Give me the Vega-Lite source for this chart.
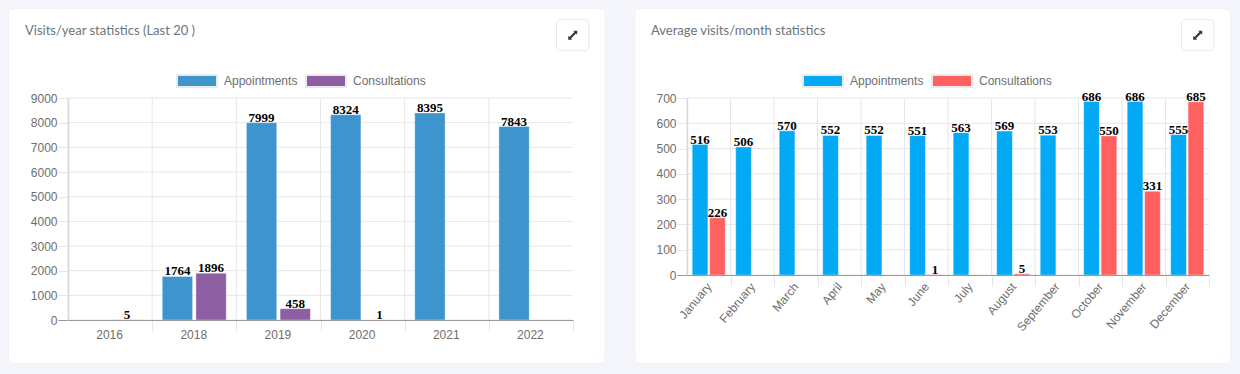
{"$schema":"https://vega.github.io/schema/vega-lite/v6.json","padding":{"left":8,"top":8,"right":8,"bottom":9},"background":"#f5f6fb","spacing":28,"resolve":{"scale":{"color":"independent","xOffset":"independent"},"legend":{"color":"independent"}},"config":{"view":{"stroke":null},"axis":{"labelFont":"Liberation Sans","labelColor":"#6e6e6e","labelFontSize":12,"title":null,"grid":false},"legend":{"orient":"none","direction":"horizontal","title":null,"labelFont":"Liberation Sans","labelFontSize":12,"labelColor":"#6e6e6e","symbolType":"M-1,-0.3L1,-0.3L1,0.3L-1,0.3Z","symbolSize":1600,"symbolStrokeColor":"#eaeaea","symbolStrokeWidth":2,"symbolOpacity":1,"labelOffset":6,"columnPadding":4,"padding":0},"title":{"font":"Lato","fontSize":13,"fontWeight":"normal","color":"#6c757d","anchor":"start","frame":"group"}},"hconcat":[{"width":505,"height":222,"title":{"text":"Visits/year statistics (Last 20 )","dx":-43,"offset":-30},"resolve":{"scale":{"x":"independent","y":"independent"}},"layer":[{"data":{"values":[{}]},"mark":{"type":"rect","fill":"#ffffff","stroke":"#eff0f6","strokeWidth":1,"cornerRadius":5},"encoding":{"x":{"datum":0,"type":"quantitative","scale":{"domain":[0,1],"range":[-59.4,537.2]},"axis":null},"x2":{"datum":1},"y":{"datum":0,"type":"quantitative","scale":{"domain":[0,1],"range":[-89.3,265.7]},"axis":null},"y2":{"datum":1}}},{"data":{"values":[{}]},"layer":[{"mark":{"type":"rect","fill":"#ffffff","stroke":"#e6e8ee","strokeWidth":1,"cornerRadius":4},"encoding":{"x":{"datum":0,"type":"quantitative","scale":{"domain":[0,1],"range":[488.5,520.9]},"axis":null},"x2":{"datum":1},"y":{"datum":0,"type":"quantitative","scale":{"domain":[0,1],"range":[-78.3,-47.3]},"axis":null},"y2":{"datum":1}}},{"mark":{"type":"point","filled":true,"fill":"#343a40","opacity":1,"size":100,"shape":"M0.9,-0.9L0.1,-0.9L0.34,-0.66L-0.66,0.34L-0.9,0.1L-0.9,0.9L-0.1,0.9L-0.34,0.66L0.66,-0.34L0.9,-0.1Z"},"encoding":{"x":{"datum":0.5,"type":"quantitative","scale":{"domain":[0,1],"range":[488.5,520.9]},"axis":null},"y":{"datum":0.5,"type":"quantitative","scale":{"domain":[0,1],"range":[-78.3,-47.3]},"axis":null}}}]},{"layer":[{"data":{"values":[{"value":0},{"value":1000},{"value":2000},{"value":3000},{"value":4000},{"value":5000},{"value":6000},{"value":7000},{"value":8000},{"value":9000}]},"mark":{"type":"rule","color":"#e6e6e6","strokeWidth":1},"encoding":{"y":{"field":"value","type":"quantitative","scale":{"domain":[0,9000]},"axis":{"zindex":1,"values":[0,1000,2000,3000,4000,5000,6000,7000,8000,9000],"format":"d","tickSize":10,"labelPadding":1,"labelOverlap":false,"tickColor":{"condition":{"test":"datum.value===0","value":"#999999"},"value":"#e6e6e6"},"domainColor":"#d9d9d9","domainWidth":1.5}}}},{"data":{"values":[{"period":"2016"},{"period":"2018"},{"period":"2019"},{"period":"2020"},{"period":"2021"},{"period":"2022"}]},"mark":{"type":"rule","color":"#e6e6e6","strokeWidth":1},"encoding":{"x":{"field":"period","type":"nominal","bandPosition":0,"sort":null,"scale":{"domain":["2016","2018","2019","2020","2021","2022"],"paddingInner":0,"paddingOuter":0},"axis":{"zindex":1,"labelAngle":0,"labelOffset":-1,"tickBand":"extent","tickSize":11,"labelPadding":-2,"domainColor":"#999999","tickColor":{"condition":{"test":"datum.extra || !datum.label","value":"transparent"},"value":"#e6e6e6"}}}}},{"data":{"values":[{"period":"2016","series":"Consultations","visits":5},{"period":"2018","series":"Appointments","visits":1764},{"period":"2018","series":"Consultations","visits":1896},{"period":"2019","series":"Appointments","visits":7999},{"period":"2019","series":"Consultations","visits":458},{"period":"2020","series":"Appointments","visits":8324},{"period":"2020","series":"Consultations","visits":1},{"period":"2021","series":"Appointments","visits":8395},{"period":"2022","series":"Appointments","visits":7843}]},"encoding":{"x":{"field":"period","type":"nominal","sort":null,"axis":{"zindex":1,"labelAngle":0,"labelOffset":-1,"tickBand":"extent","tickSize":11,"labelPadding":-2,"domainColor":"#999999","tickColor":{"condition":{"test":"datum.extra || !datum.label","value":"transparent"},"value":"#e6e6e6"}}},"xOffset":{"field":"series","type":"nominal","scale":{"domain":["Appointments","Consultations"],"paddingInner":0.1,"paddingOuter":0.3}},"y":{"field":"visits","type":"quantitative","axis":{"zindex":1,"values":[0,1000,2000,3000,4000,5000,6000,7000,8000,9000],"format":"d","tickSize":10,"labelPadding":1,"labelOverlap":false,"tickColor":{"condition":{"test":"datum.value===0","value":"#999999"},"value":"#e6e6e6"},"domainColor":"#d9d9d9","domainWidth":1.5}}},"layer":[{"mark":{"type":"bar","stroke":"#ffffff","strokeOpacity":0.35,"strokeWidth":1},"encoding":{"color":{"field":"series","type":"nominal","scale":{"domain":["Appointments","Consultations"],"range":["#3e95cd","#8e5ea2"]},"legend":{"legendX":108,"legendY":-38}}}},{"mark":{"type":"text","font":"Liberation Serif","fontWeight":"bold","fontSize":13,"fill":"#000000","baseline":"alphabetic","dy":-1},"encoding":{"text":{"field":"visits","type":"quantitative","format":"d"}}}]}]}]},{"width":522,"height":177,"title":{"text":"Average visits/month statistics","dx":-36,"offset":-30},"resolve":{"scale":{"x":"independent","y":"independent"}},"layer":[{"data":{"values":[{}]},"mark":{"type":"rect","fill":"#ffffff","stroke":"#eff0f6","strokeWidth":1,"cornerRadius":5},"encoding":{"x":{"datum":0,"type":"quantitative","scale":{"domain":[0,1],"range":[-52.2,543.8]},"axis":null},"x2":{"datum":1},"y":{"datum":0,"type":"quantitative","scale":{"domain":[0,1],"range":[-89.3,265.7]},"axis":null},"y2":{"datum":1}}},{"data":{"values":[{}]},"layer":[{"mark":{"type":"rect","fill":"#ffffff","stroke":"#e6e8ee","strokeWidth":1,"cornerRadius":4},"encoding":{"x":{"datum":0,"type":"quantitative","scale":{"domain":[0,1],"range":[494.5,526.9]},"axis":null},"x2":{"datum":1},"y":{"datum":0,"type":"quantitative","scale":{"domain":[0,1],"range":[-78.3,-47.3]},"axis":null},"y2":{"datum":1}}},{"mark":{"type":"point","filled":true,"fill":"#343a40","opacity":1,"size":100,"shape":"M0.9,-0.9L0.1,-0.9L0.34,-0.66L-0.66,0.34L-0.9,0.1L-0.9,0.9L-0.1,0.9L-0.34,0.66L0.66,-0.34L0.9,-0.1Z"},"encoding":{"x":{"datum":0.5,"type":"quantitative","scale":{"domain":[0,1],"range":[494.5,526.9]},"axis":null},"y":{"datum":0.5,"type":"quantitative","scale":{"domain":[0,1],"range":[-78.3,-47.3]},"axis":null}}}]},{"layer":[{"data":{"values":[{"value":0},{"value":100},{"value":200},{"value":300},{"value":400},{"value":500},{"value":600},{"value":700}]},"mark":{"type":"rule","color":"#e6e6e6","strokeWidth":1},"encoding":{"y":{"field":"value","type":"quantitative","scale":{"domain":[0,700]},"axis":{"zindex":1,"values":[0,100,200,300,400,500,600,700],"format":"d","tickSize":10,"labelPadding":1,"labelOverlap":false,"tickColor":{"condition":{"test":"datum.value===0","value":"#999999"},"value":"#e6e6e6"},"domainColor":"#d9d9d9","domainWidth":1.5}}}},{"data":{"values":[{"period":"January"},{"period":"February"},{"period":"March"},{"period":"April"},{"period":"May"},{"period":"June"},{"period":"July"},{"period":"August"},{"period":"September"},{"period":"October"},{"period":"November"},{"period":"December"}]},"mark":{"type":"rule","color":"#e6e6e6","strokeWidth":1},"encoding":{"x":{"field":"period","type":"nominal","bandPosition":0,"sort":null,"scale":{"domain":["January","February","March","April","May","June","July","August","September","October","November","December"],"paddingInner":0,"paddingOuter":0},"axis":{"zindex":1,"labelAngle":-50,"tickBand":"extent","tickSize":11,"labelPadding":-2,"domainColor":"#999999","tickColor":{"condition":{"test":"datum.extra || !datum.label","value":"transparent"},"value":"#e6e6e6"}}}}},{"data":{"values":[{"period":"January","series":"Appointments","visits":516},{"period":"January","series":"Consultations","visits":226},{"period":"February","series":"Appointments","visits":506},{"period":"March","series":"Appointments","visits":570},{"period":"April","series":"Appointments","visits":552},{"period":"May","series":"Appointments","visits":552},{"period":"June","series":"Appointments","visits":551},{"period":"June","series":"Consultations","visits":1},{"period":"July","series":"Appointments","visits":563},{"period":"August","series":"Appointments","visits":569},{"period":"August","series":"Consultations","visits":5},{"period":"September","series":"Appointments","visits":553},{"period":"October","series":"Appointments","visits":686},{"period":"October","series":"Consultations","visits":550},{"period":"November","series":"Appointments","visits":686},{"period":"November","series":"Consultations","visits":331},{"period":"December","series":"Appointments","visits":555},{"period":"December","series":"Consultations","visits":685}]},"encoding":{"x":{"field":"period","type":"nominal","sort":null,"axis":{"zindex":1,"labelAngle":-50,"tickBand":"extent","tickSize":11,"labelPadding":-2,"domainColor":"#999999","tickColor":{"condition":{"test":"datum.extra || !datum.label","value":"transparent"},"value":"#e6e6e6"}}},"xOffset":{"field":"series","type":"nominal","scale":{"domain":["Appointments","Consultations"],"paddingInner":0.1,"paddingOuter":0.3}},"y":{"field":"visits","type":"quantitative","axis":{"zindex":1,"values":[0,100,200,300,400,500,600,700],"format":"d","tickSize":10,"labelPadding":1,"labelOverlap":false,"tickColor":{"condition":{"test":"datum.value===0","value":"#999999"},"value":"#e6e6e6"},"domainColor":"#d9d9d9","domainWidth":1.5}}},"layer":[{"mark":{"type":"bar","stroke":"#ffffff","strokeOpacity":0.35,"strokeWidth":1},"encoding":{"color":{"field":"series","type":"nominal","scale":{"domain":["Appointments","Consultations"],"range":["#03a9f4","#ff6161"]},"legend":{"legendX":115,"legendY":-38}}}},{"mark":{"type":"text","font":"Liberation Serif","fontWeight":"bold","fontSize":13,"fill":"#000000","baseline":"alphabetic","dy":-1},"encoding":{"text":{"field":"visits","type":"quantitative","format":"d"}}}]}]}]}]}
